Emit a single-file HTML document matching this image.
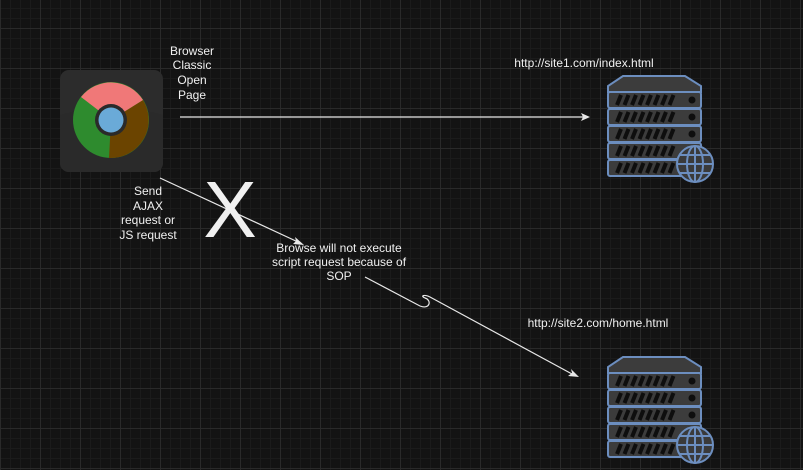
<!DOCTYPE html>
<html><head><meta charset="utf-8"><style>
html,body{margin:0;padding:0;}
body{width:803px;height:470px;overflow:hidden;background-color:#131313;
background-image:
linear-gradient(#2a2a2a 1px,transparent 1px),
linear-gradient(90deg,#2a2a2a 1px,transparent 1px),
linear-gradient(#1b1b1b 1px,transparent 1px),
linear-gradient(90deg,#1b1b1b 1px,transparent 1px);
background-size:40px 40px,40px 40px,10px 10px,10px 10px;
background-position:0 28px,0 0,0 8px,0 0;
font-family:"Liberation Sans",sans-serif;}
svg{position:absolute;left:0;top:0}
</style></head><body>
<svg width="803" height="470" viewBox="0 0 803 470">
<defs>
<g id="srv">
<path d="M623 76 H685 L701 86 V92 H608 V86 Z" fill="#3c3c3c" stroke="#6c8ebf" stroke-width="2"/>
<g fill="#3c3c3c" stroke="#6c8ebf" stroke-width="2">
<rect x="608" y="92" width="93" height="16" rx="2"/>
<rect x="608" y="109" width="93" height="16" rx="2"/>
<rect x="608" y="126" width="93" height="16" rx="2"/>
<rect x="608" y="143" width="93" height="16" rx="2"/>
<rect x="608" y="160" width="93" height="16" rx="2"/>
</g>
<g stroke="#0e0e0e" stroke-width="4">
<path d="M617 105l4-10M624.5 105l4-10M632 105l4-10M639.5 105l4-10M647 105l4-10M654.5 105l4-10M662 105l4-10M669.5 105l4-10"/>
<path d="M617 122l4-10M624.5 122l4-10M632 122l4-10M639.5 122l4-10M647 122l4-10M654.5 122l4-10M662 122l4-10M669.5 122l4-10"/>
<path d="M617 139l4-10M624.5 139l4-10M632 139l4-10M639.5 139l4-10M647 139l4-10M654.5 139l4-10M662 139l4-10M669.5 139l4-10"/>
<path d="M617 156l4-10M624.5 156l4-10M632 156l4-10M639.5 156l4-10M647 156l4-10M654.5 156l4-10M662 156l4-10M669.5 156l4-10"/>
<path d="M617 173l4-10M624.5 173l4-10M632 173l4-10M639.5 173l4-10M647 173l4-10M654.5 173l4-10M662 173l4-10M669.5 173l4-10"/>
</g>
<circle cx="692" cy="100" r="3.5" fill="#0e0e0e"/><circle cx="692" cy="117" r="3.5" fill="#0e0e0e"/><circle cx="692" cy="134" r="3.5" fill="#0e0e0e"/>
<g stroke="#6c8ebf" stroke-width="2" fill="#3a3a3a">
<circle cx="695" cy="164" r="18"/>
<ellipse cx="695" cy="164" rx="8" ry="18" fill="none"/>
<path d="M695 146V182M677 164H713M680 155H710M680 173H710" fill="none"/>
</g>
</g>
</defs>
<!-- chrome -->
<rect x="60" y="70" width="103" height="102" rx="9" fill="#2c2c2c"/>
<path d="M60 115 Q111 100 163 115 V163 a9 9 0 0 1 -9 9 H69 a9 9 0 0 1 -9 -9Z" fill="#2a2a2a"/>
<circle cx="111" cy="120" r="38" fill="#2e8b2e"/>
<path d="M111 120 L143 100 A38 38 0 0 1 109 158 Z" fill="#6b4400"/>
<path d="M111 120 L143 100 A38 38 0 0 0 81 97 Z" fill="#f07878"/>
<circle cx="111" cy="120" r="16" fill="#2a2a2a"/>
<circle cx="111" cy="120" r="12.5" fill="#6aaad8"/>
<!-- servers -->
<use href="#srv"/>
<use href="#srv" transform="translate(0,281)"/>
<!-- arrows -->
<g stroke="#e8e8e8" stroke-width="1.2" fill="none">
<path d="M180 117 H584"/>
<path d="M160 178 L298 242"/>
<path d="M365 277 L420 306 C430 310 432 300 425 298 C420 296 424 294 430 297 L572 374"/>
</g>
<g fill="#e8e8e8">
<path d="M590 117 L581 113 L583 117 L581 121Z"/>
<path d="M304 245 L295 237 L296 241 L293 244Z"/>
<path d="M579 377 L571 369 L572 373 L568 376Z"/>
</g>
<!-- text -->
<g fill="#f0f0f0" font-size="12" text-anchor="middle">
<text x="192" y="55">Browser</text><text x="192" y="69">Classic</text><text x="192" y="84">Open</text><text x="192" y="99">Page</text>
<text x="148" y="195">Send</text><text x="148" y="210">AJAX</text><text x="148" y="224">request or</text><text x="148" y="239">JS request</text>
<text x="339" y="252">Browse will not execute</text><text x="339" y="266">script request because of</text><text x="339" y="280">SOP</text>
<text x="584" y="67">http://site1.com/index.html</text>
<text x="598" y="327">http://site2.com/home.html</text>
<text x="230" y="237" font-size="80">X</text>
</g>
</svg>
</body></html>
